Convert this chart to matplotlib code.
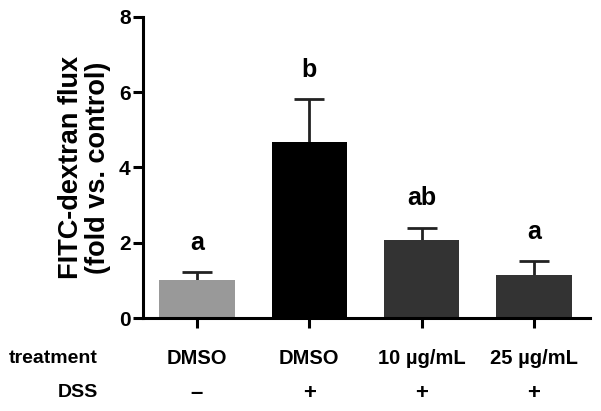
import matplotlib
matplotlib.use("Agg")
import matplotlib.pyplot as plt
import numpy as np

plt.rcParams['font.family'] = ['Liberation Sans', 'DejaVu Sans']

treatments = ["DMSO", "DMSO", "10 µg/mL", "25 µg/mL"]
dss = ["–", "+", "+", "+"]
means = [1.0, 4.67, 2.07, 1.14]
sem = [0.22, 1.15, 0.33, 0.38]
letters = ["a", "b", "ab", "a"]
letter_y = [2.0, 6.6, 3.2, 2.3]
colors = ["#999999", "#000000", "#333333", "#333333"]

fig = plt.figure(figsize=(6.01, 4.11), dpi=100)
ax = fig.add_axes([0.238, 0.226, 0.744, 0.733])
x = np.arange(len(means))
ax.bar(x, means, width=0.67, color=colors, zorder=2)
for xi, m, e in zip(x, means, sem):
    _, caps, _ = ax.errorbar(xi, m, yerr=[[0], [e]], color='#222222', elinewidth=2,
                             capsize=11, capthick=2, zorder=1)
    caps[0].set_visible(False)
for xi, t, ly in zip(x, letters, letter_y):
    ax.text(xi, ly, t, ha='center', va='center', fontsize=18, fontweight='bold')

ax.set_xlim(-0.48, 3.5)
ax.set_ylim(0, 8)
ax.set_yticks([0, 2, 4, 6, 8])
ax.set_yticklabels(["0", "2", "4", "6", "8"], fontsize=15, fontweight='bold')
ax.set_xticks(x)
ax.set_xticklabels([])
for s in ['top', 'right']:
    ax.spines[s].set_visible(False)
for s in ['left', 'bottom']:
    ax.spines[s].set_linewidth(2.2)
ax.tick_params(axis='both', width=2.2, length=7, pad=2)
ax.set_ylabel("FITC-dextran flux\n(fold vs. control)", fontsize=19.5,
              fontweight='bold', labelpad=6, linespacing=1.05)

trans = ax.get_xaxis_transform()
for xi, t in zip(x, treatments):
    ax.text(xi, -0.133, t, transform=trans, ha='center', va='center',
            fontsize=14.5, fontweight='bold')
for xi, d in zip(x, dss):
    ax.text(xi, -0.25, d, transform=trans, ha='center', va='center',
            fontsize=16, fontweight='bold')
fig.text(98/601, 1-358/411, "treatment", ha='right', va='center', fontsize=14, fontweight='bold')
fig.text(98/601, 1-392/411, "DSS", ha='right', va='center', fontsize=14, fontweight='bold')

fig.savefig("out.png", dpi=100)
